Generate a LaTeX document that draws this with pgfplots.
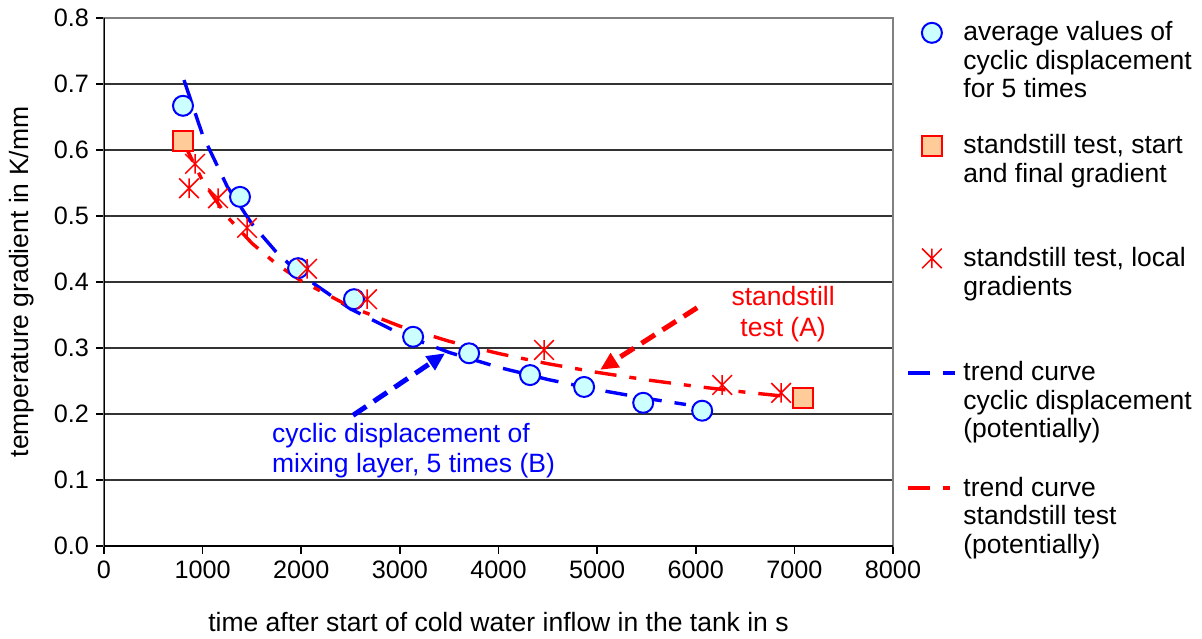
\documentclass[border=0pt]{standalone}
\usepackage{pgfplots}
\pgfplotsset{compat=1.18}
\usepackage{fontspec}
\setmainfont{Liberation Sans}
\usetikzlibrary{arrows.meta}

\definecolor{cfill}{HTML}{CCFFFF}
\definecolor{sfill}{HTML}{FFCC99}

% Excel style star: X plus vertical bar
\pgfdeclareplotmark{xstar}{%
  \pgfpathmoveto{\pgfqpoint{0pt}{\pgfplotmarksize}}%
  \pgfpathlineto{\pgfqpoint{0pt}{-\pgfplotmarksize}}%
  \pgfpathmoveto{\pgfqpoint{-\pgfplotmarksize}{\pgfplotmarksize}}%
  \pgfpathlineto{\pgfqpoint{\pgfplotmarksize}{-\pgfplotmarksize}}%
  \pgfpathmoveto{\pgfqpoint{-\pgfplotmarksize}{-\pgfplotmarksize}}%
  \pgfpathlineto{\pgfqpoint{\pgfplotmarksize}{\pgfplotmarksize}}%
  \pgfusepathqstroke}

\newcommand{\txt}{\fontsize{13.25}{14.25}\selectfont}
\newcommand{\ent}[1]{\parbox[t]{122pt}{\txt #1}}

\pgfplotsset{
  markimg/.style={legend image code/.code={
    \path (0pt,10pt) (0pt,-46pt);
    \draw[mark repeat=2,mark phase=2,##1] plot coordinates {(0pt,0pt)(11.75pt,0pt)(23.5pt,0pt)};}},
  lineimg/.style={legend image code/.code={
    \path (0pt,10pt) (0pt,-46pt);
    \draw[##1,line width=2pt] (0pt,0pt) -- (23.5pt,0pt);}},
}

\begin{document}
\begin{tikzpicture}
\begin{axis}[
  name=ax, at={(0,0)}, anchor=south west,
  scale only axis, width=394.5pt, height=264pt,
  xmin=0, xmax=8000, ymin=0, ymax=0.8,
  xtick={0,1000,2000,3000,4000,5000,6000,7000,8000},
  ytick={0,0.1,0.2,0.3,0.4,0.5,0.6,0.7,0.8},
  ymajorgrids, grid style={black!80, line width=0.6pt},
  axis line style={draw=gray, line width=0.8pt},
  tick style={black, line width=0.8pt},
  tick align=outside, major tick length=4pt, tick pos=left,
  /pgf/number format/assume math mode=true,
  tick label style={font=\fontsize{12.6}{14}\selectfont},
  xticklabel style={/pgf/number format/1000 sep={}},
  yticklabel style={/pgf/number format/.cd, fixed, fixed zerofill, precision=1},
  every axis x label/.style={at={(rel axis cs:0.5,0)}, anchor=center, yshift=-38pt, font=\txt},
  every axis y label/.style={at={(rel axis cs:0,0.5)}, rotate=90, anchor=center, yshift=41pt, font=\txt},
  xlabel={time after start of cold water inflow in the tank in s},
  ylabel={temperature gradient in K/mm},
  legend style={at={(1,1)}, anchor=north west, xshift=6.5pt, yshift=3pt,
    draw=none, fill=none, inner sep=0pt, row sep=0pt, column sep=3pt,
    nodes={inner sep=0pt}, font=\txt},
  legend cell align=left,
]
% averages of cyclic displacement
\addplot[only marks, mark=*, mark size=5pt, mark options={draw=blue, fill=cfill, line width=1pt}, markimg]
  coordinates {(801,0.667)(1379,0.529)(1968,0.421)(2535,0.374)(3134,0.317)
               (3702,0.292)(4320,0.259)(4868,0.241)(5467,0.217)(6065,0.205)};
\addlegendentry{\ent{average values of\\cyclic displacement\\for 5 times}}
% standstill start and final
\addplot[only marks, mark=square*, mark size=5pt, mark options={draw=red, fill=sfill, line width=1pt}, markimg]
  coordinates {(801,0.613)(7089,0.224)};
\addlegendentry{\ent{standstill test, start\\and final gradient}}
% standstill local gradients
\addplot[only marks, mark=xstar, mark size=4.9pt, mark options={draw=red, line width=0.75pt}, markimg]
  coordinates {(862,0.542)(923,0.579)(1156,0.527)(1450,0.482)(2059,0.420)
               (2667,0.374)(4462,0.297)(6268,0.244)(6866,0.232)};
\addlegendentry{\ent{standstill test, local\\gradients}}
% trend curve cyclic displacement
\addplot[blue, line width=1.7pt, dash pattern=on 11pt off 6.5pt, lineimg]
  coordinates {(811,0.706)(1000,0.6226)(1250,0.5445)(1500,0.4880)(1750,0.4448)
               (2000,0.4106)(2500,0.3591)(3000,0.3218)(3500,0.2933)(4000,0.2708)
               (4500,0.2523)(5000,0.2368)(5500,0.2236)(5900,0.2144)};
\addlegendentry{\ent{trend curve\\cyclic displacement\\(potentially)}}
% trend curve standstill test
\addplot[red, line width=1.7pt, dash pattern=on 11pt off 6.5pt on 3.5pt off 6.5pt, lineimg]
  coordinates {(801,0.613)(1000,0.5531)(1250,0.4989)(1500,0.4587)(1750,0.4271)
               (2000,0.4016)(2500,0.3624)(3000,0.3331)(3500,0.3102)(4000,0.2917)
               (4500,0.2762)(5000,0.2631)(5500,0.2518)(6000,0.2419)(6500,0.2331)
               (7089,0.224)};
\addlegendentry{\ent{trend curve\\standstill test\\(potentially)}}

% annotations
\draw[red, line width=2.5pt, dash pattern=on 8pt off 4.5pt, -{Triangle[length=9pt,width=8pt]}]
  (axis cs:6014,0.361) -- (axis cs:5030,0.267);
\draw[blue, line width=2.5pt, dash pattern=on 8pt off 4.5pt, -{Triangle[length=9pt,width=8pt]}]
  (axis cs:2525,0.198) -- (axis cs:3458,0.292);
\node[red, align=center, font=\fontsize{13.25}{15.5}\selectfont] at (axis cs:6886,0.351) {standstill\\test (A)};
\node[blue, align=left, anchor=west, font=\fontsize{13.25}{15}\selectfont] at (axis cs:1633,0.144)
  {cyclic displacement of\\mixing layer, 5 times (B)};

% axes in black on left and bottom
\draw[black, line width=0.8pt] (rel axis cs:0,1) -- (rel axis cs:0,0) -- (rel axis cs:1,0);
\end{axis}
\pgfresetboundingbox
\path[use as bounding box] ([shift={(-52pt,-46pt)}]ax.south west) rectangle ([shift={(549pt,273pt)}]ax.south west);
\end{tikzpicture}
\end{document}
